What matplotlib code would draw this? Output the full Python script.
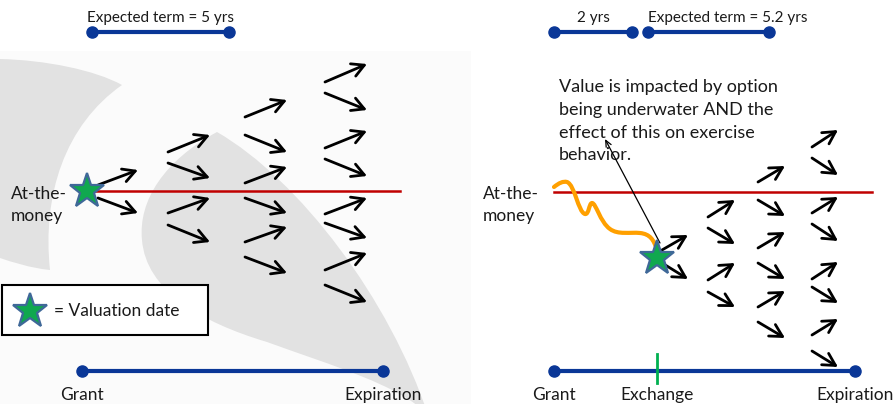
import matplotlib
matplotlib.use("Agg")
import matplotlib.pyplot as plt
from matplotlib.patches import Rectangle, FancyArrowPatch, PathPatch
from matplotlib.path import Path

W, H = 895, 404
FONT = "Lato"
BLUE = "#0a3797"
RED = "#c00000"
ORANGE = "#ffa000"
STAR_FACE = "#10a84f"
STAR_EDGE = "#3f6898"
SWOOSH = "#e2e2e2"

# ---- labels ----
left_term_label = "Expected term = 5 yrs"
right_gap_label = "2 yrs"
right_term_label = "Expected term = 5.2 yrs"
atm_label = "At-the-\nmoney"
legend_label = "= Valuation date"
note_label = ("Value is impacted by option\nbeing underwater AND the\n"
              "effect of this on exercise\nbehavior.")
left_axis_labels = ["Grant", "Expiration"]
right_axis_labels = ["Grant", "Exchange", "Expiration"]

# ---- binomial tree arrows (start x, start y, end x, end y) ----
left_arrows = [
    (98, 185, 138, 170), (98, 198, 138, 213),
    (168, 152, 210, 135), (168, 163, 210, 178),
    (168, 213, 210, 198), (168, 225, 210, 242),
    (245, 117, 287, 100), (245, 135, 287, 152),
    (245, 183, 287, 167), (245, 198, 287, 213),
    (245, 242, 287, 227), (245, 257, 287, 273),
    (325, 82, 367, 64), (325, 93, 367, 110),
    (325, 148, 367, 131), (325, 159, 367, 176),
    (325, 214, 367, 198), (325, 223, 367, 238),
    (325, 270, 367, 253), (325, 285, 367, 302),
]
right_arrows = [
    (662, 250, 688, 235), (662, 263, 688, 279),
    (708, 217, 735, 200), (708, 228, 735, 244),
    (708, 280, 735, 263), (708, 292, 735, 307),
    (758, 182, 785, 166), (758, 200, 785, 216),
    (758, 248, 785, 232), (758, 263, 785, 279),
    (758, 307, 785, 291), (758, 322, 785, 338),
    (812, 147, 838, 130), (812, 158, 838, 175),
    (812, 213, 838, 197), (812, 224, 838, 241),
    (812, 279, 838, 262), (812, 287, 838, 303),
    (812, 335, 838, 319), (812, 351, 838, 367),
]

fig = plt.figure(figsize=(W / 100, H / 100), dpi=100)
ax = fig.add_axes([0, 0, 1, 1])
ax.set_xlim(0, W)
ax.set_ylim(H, 0)
ax.axis("off")


def bezier(start, segments, close=True):
    """Build a path from a start point and a list of cubic segments (c1, c2, end)."""
    verts = [start]
    codes = [Path.MOVETO]
    for c1, c2, end in segments:
        verts += [c1, c2, end]
        codes += [Path.CURVE4] * 3
    if close:
        verts.append(start)
        codes.append(Path.CLOSEPOLY)
    return Path(verts, codes)


# faint panel background
ax.add_patch(Rectangle((0, 51), 471, H - 51, facecolor="#fbfbfb", edgecolor="none", zorder=0))

# decorative swooshes
crescent = bezier((0, 59), [
    ((45, 60), (95, 70), (122, 85)),
    ((65, 125), (42, 195), (50, 270)),
    ((30, 268), (12, 262), (0, 258)),
    ((0, 200), (0, 120), (0, 59)),
])
ax.add_patch(PathPatch(crescent, facecolor=SWOOSH, edgecolor="none", zorder=1))

leaf = bezier((217, 132), [
    ((165, 160), (138, 200), (142, 240)),
    ((146, 290), (200, 322), (267, 342)),
    ((330, 365), (400, 385), (428, 415)),
    ((390, 300), (300, 180), (217, 132)),
])
ax.add_patch(PathPatch(leaf, facecolor=SWOOSH, edgecolor="none", zorder=1))

TXT = dict(fontfamily=FONT, color="#1a1a1a", zorder=6)
TOP = dict(TXT, fontsize=11)
BODY = dict(TXT, fontsize=12.5)
NOTE = dict(TXT, fontsize=13)


def timeline(x0, x1, y):
    ax.plot([x0, x1], [y, y], color=BLUE, lw=3, solid_capstyle="butt", zorder=4)
    ax.plot([x0, x1], [y, y], "o", color=BLUE, ms=8, zorder=5)


def star(x, y, size=26):
    ax.plot([x], [y], marker="*", ms=size, mfc=STAR_FACE, mec=STAR_EDGE, mew=1.6, zorder=7)


def draw_arrows(arrows):
    for x0, y0, x1, y1 in arrows:
        ax.add_patch(FancyArrowPatch((x0, y0), (x1, y1),
                                     arrowstyle="->,head_length=5.5,head_width=3",
                                     lw=2, color="black", mutation_scale=1.6,
                                     shrinkA=0, shrinkB=0, zorder=5))


# ---- left panel ----
timeline(92, 229, 32)
ax.text(161, 18, left_term_label, ha="center", va="center", **TOP)
ax.plot([90, 400], [191, 191], color=RED, lw=1.8, zorder=3)
draw_arrows(left_arrows)
star(87, 191)
ax.text(11, 205, atm_label, ha="left", va="center", linespacing=1.5, **BODY)

ax.add_patch(Rectangle((2, 285), 206, 50, facecolor="white", edgecolor="black", lw=1.5, zorder=5))
star(30, 311)
ax.text(54, 311, legend_label, ha="left", va="center", **BODY)

timeline(82, 383, 371)
ax.text(82, 395, left_axis_labels[0], ha="center", va="center", **BODY)
ax.text(383, 395, left_axis_labels[1], ha="center", va="center", **BODY)

# ---- right panel ----
timeline(554, 632, 32)
timeline(648, 769, 32)
ax.text(593, 18, right_gap_label, ha="center", va="center", **TOP)
ax.text(728, 18, right_term_label, ha="center", va="center", **TOP)

ax.text(559, 79, note_label, ha="left", va="top", linespacing=1.52, **NOTE)
ax.annotate("", xy=(605, 139), xytext=(660, 243),
            arrowprops=dict(arrowstyle="->,head_length=0.45,head_width=0.2",
                            lw=0.9, color="black", shrinkA=0, shrinkB=0),
            zorder=6)

ax.plot([554, 872], [192, 192], color=RED, lw=1.8, zorder=3)

# underwater price path leading into the exchange date
price_path = bezier((554, 187), [
    ((559, 183), (563, 181), (567, 182)),
    ((575, 185), (578, 212), (585, 214)),
    ((589, 215), (589, 203), (592, 203)),
    ((596, 203), (600, 222), (610, 229)),
    ((618, 235), (630, 232), (640, 233)),
    ((650, 234), (654, 240), (657, 250)),
], close=False)
ax.add_patch(PathPatch(price_path, facecolor="none", edgecolor=ORANGE, lw=3,
                       capstyle="round", joinstyle="round", zorder=4))

draw_arrows(right_arrows)
star(657, 258)
ax.text(483, 205, atm_label, ha="left", va="center", linespacing=1.5, **BODY)

timeline(554, 855, 371)
ax.plot([657, 657], [354, 383], color="#00b050", lw=2, zorder=6)
ax.text(554, 395, right_axis_labels[0], ha="center", va="center", **BODY)
ax.text(657, 395, right_axis_labels[1], ha="center", va="center", **BODY)
ax.text(855, 395, right_axis_labels[2], ha="center", va="center", **BODY)

fig.savefig("out.png", dpi=100)
